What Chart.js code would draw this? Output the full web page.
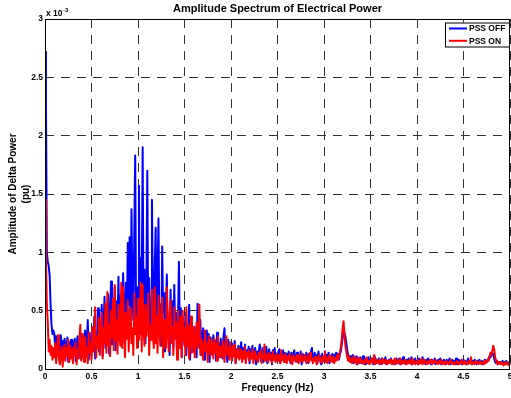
<!DOCTYPE html>
<html>
<head>
<meta charset="utf-8">
<title>Amplitude Spectrum of Electrical Power</title>
<script src="https://cdn.jsdelivr.net/npm/chart.js@4.4.1/dist/chart.umd.min.js"></script>
<style>
  html, body { margin: 0; padding: 0; background: #fff; }
  #wrap { width: 511px; height: 398px; }
</style>
</head>
<body>
<div id="wrap"><canvas id="spectrumChart" width="511" height="398"></canvas></div>
<script>
// FFT bin spacing (Hz); bins run from 0 to 5 Hz
const df = 0.01;

// amplitude of delta power, in units of 1e-3 pu, one value per bin
const pssOff = [
  2.72, 2.30, 1.00, 0.92, 0.88, 0.80, 0.55, 0.38, 0.30, 0.33,
  0.30, 0.18, 0.28, 0.12, 0.27, 0.22, 0.10, 0.29, 0.17, 0.24,
  0.08, 0.26, 0.19, 0.13, 0.27, 0.06, 0.23, 0.16, 0.25, 0.11,
  0.24, 0.15, 0.26, 0.07, 0.21, 0.28, 0.12, 0.22, 0.09, 0.30,
  0.14, 0.27, 0.10, 0.33, 0.17, 0.24, 0.42, 0.08, 0.31, 0.19,
  0.12, 0.34, 0.20, 0.45, 0.09, 0.31, 0.24, 0.52, 0.15, 0.40,
  0.22, 0.55, 0.11, 0.38, 0.62, 0.18, 0.47, 0.29, 0.64, 0.13,
  0.43, 0.75, 0.21, 0.51, 0.34, 0.70, 0.16, 0.58, 0.40, 0.79,
  0.25, 0.63, 0.45, 0.30, 0.82, 0.52, 0.20, 0.74, 0.38, 1.08,
  0.55, 1.13, 0.30, 1.37, 0.62, 0.42, 1.15, 1.83, 0.35, 0.70,
  0.48, 1.57, 0.30, 0.95, 0.62, 1.90, 0.40, 0.85, 0.22, 0.66,
  1.70, 0.35, 0.78, 0.50, 0.25, 1.45, 0.60, 0.32, 0.88, 1.21,
  0.42, 0.70, 1.29, 0.30, 0.55, 0.20, 1.05, 0.48, 0.65, 0.15,
  0.50, 0.81, 0.28, 0.44, 0.12, 0.68, 0.35, 0.58, 0.18, 0.72,
  0.30, 0.48, 0.14, 0.39, 0.92, 0.25, 0.52, 0.10, 0.45, 0.33,
  0.20, 0.48, 0.12, 0.36, 0.28, 0.55, 0.08, 0.40, 0.22, 0.34,
  0.15, 0.36, 0.27, 0.10, 0.56, 0.30, 0.18, 0.42, 0.12, 0.28,
  0.35, 0.08, 0.25, 0.19, 0.33, 0.14, 0.30, 0.06, 0.27, 0.20,
  0.12, 0.29, 0.17, 0.24, 0.07, 0.31, 0.15, 0.22, 0.10, 0.26,
  0.18, 0.09, 0.28, 0.35, 0.13, 0.21, 0.06, 0.25, 0.16, 0.11,
  0.22, 0.08, 0.19, 0.14, 0.24, 0.05, 0.17, 0.12, 0.20, 0.09,
  0.15, 0.23, 0.07, 0.18, 0.11, 0.21, 0.06, 0.16, 0.13, 0.19,
  0.05, 0.17, 0.10, 0.20, 0.08, 0.14, 0.18, 0.04, 0.15, 0.11,
  0.16, 0.21, 0.07, 0.13, 0.18, 0.06, 0.15, 0.10, 0.19, 0.05,
  0.12, 0.17, 0.08, 0.14, 0.04, 0.16, 0.11, 0.18, 0.07, 0.13,
  0.09, 0.15, 0.17, 0.05, 0.12, 0.08, 0.16, 0.10, 0.14, 0.06,
  0.13, 0.08, 0.15, 0.11, 0.05, 0.14, 0.09, 0.12, 0.16, 0.07,
  0.11, 0.14, 0.06, 0.12, 0.09, 0.15, 0.04, 0.13, 0.08, 0.12,
  0.07, 0.14, 0.10, 0.05, 0.13, 0.09, 0.15, 0.18, 0.06, 0.11,
  0.14, 0.08, 0.12, 0.05, 0.15, 0.09, 0.11, 0.04, 0.13, 0.07,
  0.10, 0.15, 0.06, 0.12, 0.08, 0.14, 0.05, 0.11, 0.09, 0.13,
  0.07, 0.12, 0.10, 0.14, 0.09, 0.13, 0.08, 0.12, 0.15, 0.20,
  0.26, 0.30, 0.31, 0.28, 0.22, 0.16, 0.12, 0.09, 0.11, 0.06,
  0.09, 0.12, 0.05, 0.10, 0.07, 0.11, 0.04, 0.09, 0.06, 0.10,
  0.05, 0.08, 0.11, 0.06, 0.09, 0.04, 0.08, 0.07, 0.10, 0.05,
  0.08, 0.06, 0.09, 0.04, 0.07, 0.10, 0.05, 0.08, 0.06, 0.09,
  0.04, 0.07, 0.09, 0.05, 0.08, 0.06, 0.10, 0.04, 0.07, 0.05,
  0.08, 0.06, 0.09, 0.05, 0.07, 0.04, 0.08, 0.06, 0.09, 0.05,
  0.07, 0.09, 0.04, 0.08, 0.06, 0.10, 0.05, 0.07, 0.04, 0.08,
  0.06, 0.09, 0.05, 0.07, 0.10, 0.04, 0.08, 0.06, 0.09, 0.05,
  0.07, 0.04, 0.09, 0.06, 0.08, 0.05, 0.10, 0.06, 0.07, 0.04,
  0.08, 0.06, 0.09, 0.05, 0.07, 0.04, 0.08, 0.06, 0.05, 0.09,
  0.04, 0.07, 0.05, 0.08, 0.06, 0.09, 0.04, 0.07, 0.05, 0.08,
  0.06, 0.04, 0.08, 0.05, 0.07, 0.09, 0.04, 0.06, 0.08, 0.05,
  0.07, 0.05, 0.09, 0.04, 0.06, 0.08, 0.05, 0.07, 0.04, 0.06,
  0.08, 0.05, 0.07, 0.04, 0.06, 0.09, 0.05, 0.07, 0.06, 0.04,
  0.07, 0.05, 0.08, 0.06, 0.04, 0.07, 0.05, 0.08, 0.06, 0.05,
  0.07, 0.04, 0.06, 0.08, 0.07, 0.06, 0.08, 0.09, 0.11, 0.10,
  0.12, 0.13, 0.13, 0.09, 0.06, 0.05, 0.07, 0.04, 0.06, 0.05,
  0.06, 0.05, 0.07, 0.04, 0.06, 0.05, 0.07, 0.04, 0.05, 0.06,
  0.04
];

const pssOn = [
  1.45, 0.95, 0.55, 0.40, 0.15, 0.25, 0.12, 0.20, 0.08, 0.18,
  0.10, 0.22, 0.05, 0.16, 0.29, 0.09, 0.04, 0.13, 0.19, 0.02,
  0.15, 0.21, 0.07, 0.18, 0.11, 0.25, 0.06, 0.20, 0.09, 0.17,
  0.05, 0.19, 0.12, 0.23, 0.04, 0.16, 0.09, 0.26, 0.38, 0.07,
  0.12, 0.30, 0.06, 0.27, 0.10, 0.18, 0.05, 0.31, 0.14, 0.22,
  0.08, 0.36, 0.15, 0.25, 0.53, 0.10, 0.28, 0.18, 0.44, 0.12,
  0.30, 0.48, 0.09, 0.35, 0.22, 0.56, 0.14, 0.66, 0.20, 0.38,
  0.11, 0.50, 0.27, 0.60, 0.16, 0.72, 0.24, 0.42, 0.13, 0.55,
  0.30, 0.20, 0.74, 0.18, 0.70, 0.35, 0.10, 0.48, 0.26, 0.59,
  0.15, 0.40, 0.52, 0.22, 0.35, 0.12, 0.65, 0.30, 0.45, 0.18,
  0.60, 0.25, 0.42, 0.74, 0.15, 0.72, 0.33, 0.20, 0.55, 0.28,
  0.40, 0.65, 0.12, 0.38, 0.25, 0.68, 0.30, 0.18, 0.70, 0.22,
  0.45, 0.14, 0.63, 0.35, 0.20, 0.50, 0.61, 0.10, 0.42, 0.28,
  0.18, 0.70, 0.32, 0.15, 0.48, 0.59, 0.22, 0.36, 0.12, 0.53,
  0.26, 0.40, 0.08, 0.50, 0.30, 0.18, 0.45, 0.10, 0.50, 0.24,
  0.35, 0.12, 0.53, 0.20, 0.38, 0.09, 0.30, 0.45, 0.14, 0.28,
  0.36, 0.10, 0.25, 0.40, 0.18, 0.30, 0.55, 0.12, 0.26, 0.20,
  0.08, 0.24, 0.33, 0.15, 0.22, 0.06, 0.28, 0.18, 0.12, 0.25,
  0.20, 0.09, 0.26, 0.14, 0.22, 0.07, 0.28, 0.16, 0.11, 0.19,
  0.10, 0.24, 0.15, 0.06, 0.21, 0.28, 0.12, 0.18, 0.08, 0.23,
  0.14, 0.07, 0.20, 0.11, 0.21, 0.05, 0.16, 0.10, 0.18, 0.08,
  0.13, 0.17, 0.06, 0.15, 0.09, 0.19, 0.05, 0.14, 0.11, 0.16,
  0.07, 0.13, 0.09, 0.17, 0.05, 0.12, 0.15, 0.08, 0.11, 0.06,
  0.14, 0.10, 0.16, 0.05, 0.12, 0.09, 0.21, 0.07, 0.13, 0.10,
  0.06, 0.14, 0.09, 0.12, 0.05, 0.15, 0.08, 0.11, 0.06, 0.13,
  0.10, 0.07, 0.12, 0.05, 0.16, 0.08, 0.11, 0.06, 0.13, 0.09,
  0.05, 0.11, 0.08, 0.13, 0.06, 0.10, 0.04, 0.12, 0.08, 0.10,
  0.06, 0.12, 0.09, 0.05, 0.11, 0.07, 0.13, 0.06, 0.10, 0.08,
  0.12, 0.05, 0.09, 0.11, 0.06, 0.14, 0.08, 0.10, 0.05, 0.09,
  0.07, 0.11, 0.04, 0.10, 0.08, 0.12, 0.06, 0.09, 0.05, 0.11,
  0.08, 0.15, 0.06, 0.10, 0.05, 0.09, 0.12, 0.07, 0.10, 0.06,
  0.11, 0.05, 0.09, 0.07, 0.12, 0.08, 0.10, 0.14, 0.18, 0.25,
  0.35, 0.41, 0.30, 0.20, 0.15, 0.10, 0.07, 0.11, 0.06, 0.09,
  0.05, 0.08, 0.11, 0.06, 0.09, 0.04, 0.08, 0.10, 0.05, 0.07,
  0.09, 0.05, 0.07, 0.04, 0.08, 0.06, 0.10, 0.05, 0.07, 0.04,
  0.06, 0.09, 0.05, 0.07, 0.12, 0.04, 0.08, 0.06, 0.05, 0.08,
  0.05, 0.07, 0.04, 0.09, 0.06, 0.05, 0.08, 0.06, 0.04, 0.07,
  0.05, 0.08, 0.06, 0.04, 0.07, 0.05, 0.09, 0.04, 0.06, 0.08,
  0.05, 0.06, 0.09, 0.04, 0.07, 0.05, 0.06, 0.08, 0.05, 0.04,
  0.07, 0.05, 0.08, 0.06, 0.04, 0.09, 0.05, 0.07, 0.04, 0.06,
  0.05, 0.08, 0.04, 0.07, 0.05, 0.09, 0.04, 0.06, 0.08, 0.05,
  0.06, 0.04, 0.07, 0.05, 0.08, 0.06, 0.04, 0.07, 0.05, 0.06,
  0.08, 0.05, 0.06, 0.04, 0.07, 0.05, 0.08, 0.04, 0.06, 0.05,
  0.04, 0.07, 0.05, 0.06, 0.04, 0.05, 0.08, 0.05, 0.06, 0.04,
  0.06, 0.04, 0.05, 0.07, 0.05, 0.04, 0.06, 0.05, 0.08, 0.04,
  0.05, 0.07, 0.04, 0.06, 0.05, 0.04, 0.07, 0.05, 0.10, 0.04,
  0.06, 0.05, 0.04, 0.07, 0.05, 0.06, 0.04, 0.05, 0.07, 0.04,
  0.05, 0.06, 0.04, 0.07, 0.05, 0.06, 0.08, 0.07, 0.10, 0.14,
  0.12, 0.16, 0.20, 0.17, 0.10, 0.07, 0.05, 0.04, 0.06, 0.05,
  0.04, 0.06, 0.05, 0.03, 0.05, 0.04, 0.06, 0.04, 0.05, 0.03,
  0.04
];

const chartTitle = 'Amplitude Spectrum of Electrical Power';
const xTitle = 'Frequency (Hz)';
const yTitle = ['Amplitude of Delta Power', '(pu)'];
const fontFamily = '"Liberation Sans", Arial, Helvetica, sans-serif';

const freq = pssOff.map((_, i) => +(i * df).toFixed(2));
const toPoints = arr => arr.map((v, i) => ({ x: freq[i], y: v }));

// white page, black axes box, title, x10^-3 multiplier and a boxed legend
const matlabFrame = {
  id: 'matlabFrame',
  beforeDraw(chart) {
    const ctx = chart.ctx;
    ctx.save();
    ctx.fillStyle = '#fff';
    ctx.fillRect(0, 0, chart.width, chart.height);
    ctx.restore();
  },
  afterDatasetsDraw(chart) {
    const { ctx, chartArea: a } = chart;
    ctx.save();
    ctx.strokeStyle = '#000';
    ctx.lineWidth = 1;
    ctx.strokeRect(a.left + 0.5, a.top + 0.5, a.right - a.left - 1, a.bottom - a.top);
    ctx.restore();
  },
  afterDraw(chart) {
    const { ctx, chartArea: a } = chart;
    ctx.save();
    ctx.fillStyle = '#000';
    ctx.textBaseline = 'middle';

    ctx.font = 'bold 11px ' + fontFamily;
    ctx.textAlign = 'center';
    ctx.fillText(chartTitle, (a.left + a.right) / 2, 9);

    ctx.textAlign = 'left';
    ctx.font = 'bold 8.5px ' + fontFamily;
    ctx.fillText('x 10', a.left + 1, 14);
    const w = ctx.measureText('x 10').width;
    ctx.font = 'bold 6px ' + fontFamily;
    ctx.fillText('-3', a.left + 1.5 + w, 10);

    // legend box in the upper right corner of the axes
    const bw = 65, bh = 24;
    const bx = a.right - bw, by = a.top + 3.5;
    ctx.fillStyle = '#fff';
    ctx.fillRect(bx, by, bw, bh);
    ctx.strokeStyle = '#000';
    ctx.lineWidth = 1;
    ctx.strokeRect(bx + 0.5, by + 0.5, bw - 1, bh);
    ctx.font = 'bold 8.5px ' + fontFamily;
    chart.data.datasets.forEach((ds, i) => {
      const y = by + 6 + i * 12.3;
      ctx.strokeStyle = ds.borderColor;
      ctx.lineWidth = 2;
      ctx.beginPath();
      ctx.moveTo(bx + 4, y);
      ctx.lineTo(bx + 22, y);
      ctx.stroke();
      ctx.fillStyle = '#000';
      ctx.fillText(ds.label, bx + 24, y + 0.5);
    });
    ctx.restore();
  }
};

const tickFont = { family: fontFamily, size: 8.5, weight: 'bold' };
const titleFont = { family: fontFamily, size: 10, weight: 'bold' };
const gridStyle = { color: '#333', lineWidth: 1, drawTicks: false };
const plainTick = v => String(+v.toFixed(2));

new Chart(document.getElementById('spectrumChart'), {
  type: 'line',
  data: {
    datasets: [
      {
        label: 'PSS OFF',
        data: toPoints(pssOff),
        borderColor: '#0000ff',
        borderWidth: 2,
        borderJoinStyle: 'round',
        pointRadius: 0,
        fill: false,
        order: 1
      },
      {
        label: 'PSS ON',
        data: toPoints(pssOn),
        borderColor: '#ff0000',
        borderWidth: 2,
        borderJoinStyle: 'round',
        pointRadius: 0,
        fill: false,
        order: 0
      }
    ]
  },
  options: {
    responsive: false,
    animation: false,
    layout: { padding: { top: 19, right: 1, left: 0, bottom: 0 } },
    plugins: {
      legend: { display: false },
      tooltip: { enabled: false },
      title: { display: false }
    },
    scales: {
      x: {
        type: 'linear',
        min: 0,
        max: 5,
        ticks: { stepSize: 0.5, color: '#000', font: tickFont, padding: 3, maxRotation: 0, autoSkip: false, callback: plainTick },
        grid: gridStyle,
        border: { display: false, dash: [9, 7] },
        title: { display: true, text: xTitle, color: '#000', font: titleFont, padding: { top: 0, bottom: 4 } },
        afterFit(scale) {
          scale.height = 29;
          scale.paddingLeft = 0;
          scale.paddingRight = 0;
        }
      },
      y: {
        min: 0,
        max: 3,
        ticks: { stepSize: 0.5, color: '#000', font: tickFont, padding: 2, callback: plainTick },
        grid: gridStyle,
        border: { display: false, dash: [9, 7] },
        title: { display: true, text: yTitle, color: '#000', font: { ...titleFont, lineHeight: 1.3 }, padding: { top: 6.5, bottom: 0 } },
        afterFit(scale) {
          scale.width = 45;
          scale.paddingTop = 0;
          scale.paddingBottom = 0;
        }
      }
    }
  },
  plugins: [matlabFrame]
});
</script>
</body>
</html>
